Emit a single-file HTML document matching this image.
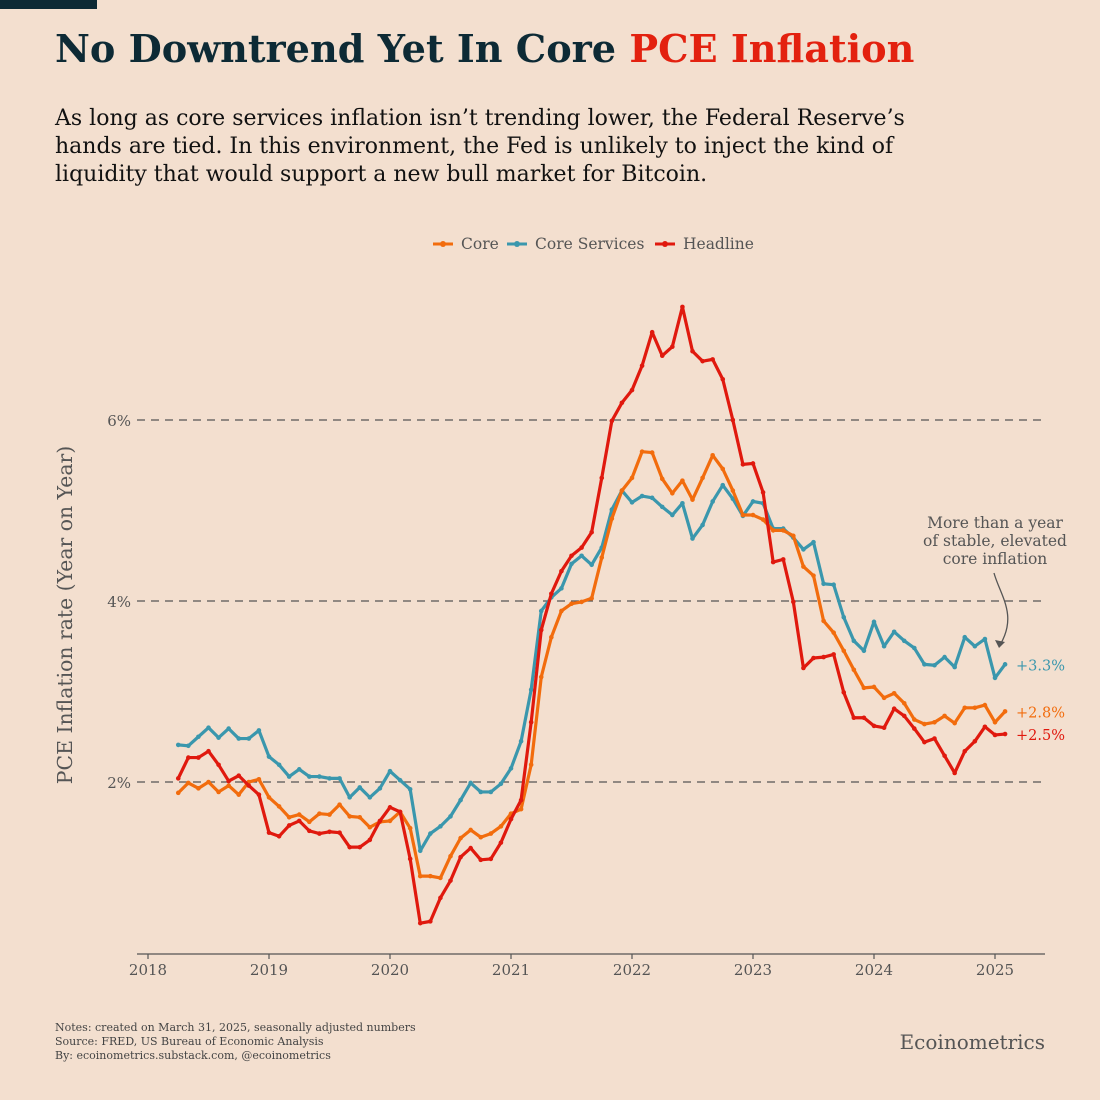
<!DOCTYPE html>
<html><head><meta charset="utf-8">
<style>
html,body{margin:0;padding:0;background:#f3dfcf;}
body{width:1100px;height:1100px;position:relative;overflow:hidden;font-family:"DejaVu Serif",serif;}
.abs{position:absolute;}
</style></head>
<body>
<div class="abs" style="left:0;top:0;width:97px;height:9px;background:#0d2a35"></div>
<div class="abs" style="left:55px;top:27px;font-size:38.2px;font-weight:bold;color:#0d2a35;white-space:nowrap">No Downtrend Yet In Core <span style="color:#e3210f">PCE Inflation</span></div>
<div class="abs" style="left:55px;top:105px;font-size:22px;line-height:28px;color:#111;width:1000px;white-space:nowrap">As long as core services inflation isn’t trending lower, the Federal Reserve’s<br>hands are tied. In this environment, the Fed is unlikely to inject the kind of<br>liquidity that would support a new bull market for Bitcoin.</div>
<svg class="abs" style="left:0;top:0" width="1100" height="1100" id="chart"></svg>
<div class="abs" style="left:55px;top:1021px;font-size:11px;line-height:14px;color:#444;white-space:nowrap">Notes: created on March 31, 2025, seasonally adjusted numbers<br>Source: FRED, US Bureau of Economic Analysis<br>By: ecoinometrics.substack.com, @ecoinometrics</div>
<div class="abs" style="right:55px;top:1030px;font-size:20px;color:#555">Ecoinometrics</div>
<script>
const startYear = 2018, startMonth = 4;
const core = [1.88,1.99,1.93,2.0,1.89,1.96,1.86,2.0,2.03,
1.83,1.73,1.61,1.64,1.56,1.65,1.64,1.75,1.62,1.61,1.50,1.56,
1.57,1.67,1.49,0.96,0.96,0.94,1.18,1.38,1.47,1.39,1.43,1.51,
1.65,1.70,2.19,3.16,3.60,3.89,3.97,3.99,4.03,4.48,4.91,5.22,
5.36,5.65,5.64,5.35,5.19,5.33,5.12,5.36,5.61,5.46,5.22,4.95,
4.95,4.90,4.78,4.78,4.72,4.38,4.28,3.78,3.65,3.45,3.24,3.04,
3.05,2.93,2.98,2.87,2.69,2.64,2.66,2.73,2.65,2.82,2.82,2.85,
2.66,2.78];
const coreServices = [2.41,2.40,2.50,2.60,2.49,2.59,2.48,2.48,2.57,
2.28,2.19,2.06,2.14,2.06,2.06,2.04,2.04,1.83,1.94,1.83,1.93,
2.12,2.02,1.92,1.24,1.43,1.51,1.62,1.80,1.99,1.89,1.89,1.98,
2.15,2.45,3.02,3.89,4.04,4.14,4.41,4.50,4.40,4.59,5.01,5.22,
5.09,5.16,5.14,5.04,4.95,5.08,4.69,4.84,5.10,5.28,5.13,4.94,
5.10,5.08,4.80,4.80,4.70,4.57,4.65,4.19,4.18,3.82,3.56,3.45,
3.77,3.50,3.66,3.56,3.48,3.30,3.29,3.38,3.27,3.60,3.50,3.58,
3.15,3.30];
const headline = [2.04,2.27,2.27,2.34,2.19,2.01,2.07,1.96,1.86,
1.44,1.40,1.52,1.57,1.46,1.43,1.45,1.44,1.28,1.28,1.36,1.57,
1.72,1.67,1.15,0.44,0.46,0.72,0.91,1.17,1.27,1.14,1.15,1.33,
1.59,1.80,2.66,3.68,4.08,4.33,4.50,4.59,4.76,5.36,5.99,6.19,
6.33,6.60,6.97,6.71,6.81,7.25,6.76,6.65,6.67,6.45,6.00,5.51,
5.52,5.20,4.43,4.46,3.99,3.26,3.37,3.38,3.41,2.99,2.71,2.71,
2.62,2.60,2.81,2.73,2.59,2.44,2.48,2.29,2.10,2.34,2.45,2.61,
2.52,2.53];
const yTicks = [2,4,6];
const xTicks = [2018,2019,2020,2021,2022,2023,2024,2025];
const seriesNames = ["Core","Core Services","Headline"];

const NS="http://www.w3.org/2000/svg";
const FF='DejaVu Serif';
const svg=document.getElementById('chart');
const X0=137,X1=1045,AXY=954;
const xs=t=>148+(t-2018)*121;
const ys=v=>782-(v-2)*90.5;
function mk(tag,attrs,parent){const e=document.createElementNS(NS,tag);for(const k in attrs)e.setAttribute(k,attrs[k]);(parent||svg).appendChild(e);return e;}
yTicks.forEach(v=>{
  const l=mk('line',{x1:X0,x2:X1,y1:ys(v),y2:ys(v),stroke:'#555','stroke-width':1.2,'stroke-dasharray':'8,6'});
  
  
  const t=mk('text',{x:131,y:ys(v)+6,'text-anchor':'end','font-size':15,fill:'#555','font-family':FF});
  t.textContent=v+'%';
  
  
});
const ax=mk('line',{x1:X0,x2:X1,y1:AXY,y2:AXY,stroke:'#555','stroke-width':1.2});


xTicks.forEach(yr=>{
  mk('line',{x1:xs(yr),x2:xs(yr),y1:AXY,y2:AXY+5,stroke:'#555','stroke-width':1.2});
  const t=mk('text',{x:xs(yr),y:AXY+21,'text-anchor':'middle','font-size':15,fill:'#555','font-family':FF});
  t.textContent=yr;
  
  
});
const yt=mk('text',{x:0,y:0,transform:'translate(72,615) rotate(-90)','text-anchor':'middle','font-size':20.4,fill:'#555','font-family':FF});
yt.textContent='PCE Inflation rate (Year on Year)';


function drawSeries(arr,color,name){
  const g=mk('g',{});
  
  
  const pts=arr.map((v,i)=>[xs(startYear+(startMonth-1+i)/12),ys(v)]);
  mk('polyline',{points:pts.map(p=>p.join(',')).join(' '),fill:'none',stroke:color,'stroke-width':3.2,'stroke-linejoin':'round'},g);
  pts.forEach(p=>mk('circle',{cx:p[0],cy:p[1],r:2.3,fill:color},g));
}
drawSeries(coreServices,'#3a97ad','core-services-line');
drawSeries(core,'#f26c0d','core-line');
drawSeries(headline,'#e0190e','headline-line');
const endLabels=[[coreServices,'#3a97ad'],[core,'#f26c0d'],[headline,'#e0190e']];
endLabels.forEach(([a,c])=>{
  const v=a[a.length-1];
  const t=mk('text',{x:1016,y:ys(v)+6,'font-size':14.5,fill:c,'font-family':FF});
  t.textContent='+'+v.toFixed(1)+'%';
  
  
});
const legColors=['#f26c0d','#3a97ad','#e0190e'];
const legX=[433,507,655];
seriesNames.forEach((n,i)=>{
  const g=mk('g',{});
  
  
  mk('line',{x1:legX[i],x2:legX[i]+20,y1:244,y2:244,stroke:legColors[i],'stroke-width':3},g);
  mk('circle',{cx:legX[i]+10,cy:244,r:3,fill:legColors[i]},g);
  const t=mk('text',{x:legX[i]+28,y:249,'font-size':15.5,fill:'#555','font-family':FF},g);
  t.textContent=n;
});
['More than a year','of stable, elevated','core inflation'].forEach((s,i)=>{
  const t=mk('text',{x:995,y:528+i*18,'text-anchor':'middle','font-size':15.5,fill:'#555','font-family':FF});
  t.textContent=s;
  
  
});
const ar=mk('path',{d:'M994,573 C1000,595 1018,615 1000,645',fill:'none',stroke:'#555','stroke-width':1.3});


mk('path',{d:'M995,640 L999,648 L1005,642 Z',fill:'#555'});
</script>
</body></html>
